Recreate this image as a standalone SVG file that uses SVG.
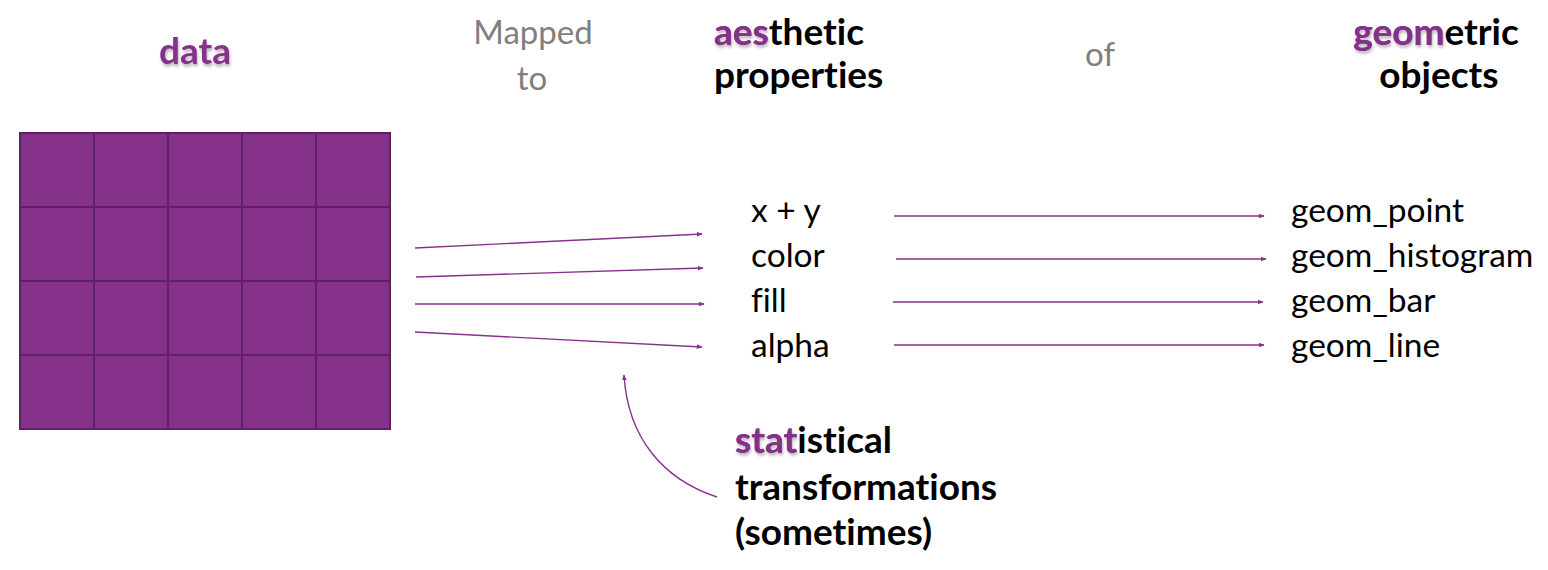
<svg xmlns="http://www.w3.org/2000/svg" width="1548" height="570" viewBox="0 0 1548 570">
<defs>
<style>
text{font-family:Lato,"Open Sans","Liberation Sans",sans-serif;font-variant-ligatures:none;}
.t{font-size:37px;font-weight:bold;fill:#000;}
.p{fill:#85308a;}
.n{fill:none;}
.g{font-size:33px;fill:#7f7f7f;}
.l{font-size:33.5px;fill:#000;}
.c{stroke:#86328a;stroke-width:1.4;fill:none;marker-end:url(#ah);}
.cell{fill:#86328a;stroke:#5e2163;stroke-width:2;}
</style>
<marker id="ah" viewBox="0 0 10 10" refX="9" refY="5" markerWidth="6" markerHeight="6" orient="auto" markerUnits="userSpaceOnUse"><path d="M0,1 L10,5 L0,9 z" fill="#86328a"/></marker>
<filter id="sh" x="-10%" y="-20%" width="130%" height="160%"><feDropShadow dx="1" dy="2.5" stdDeviation="1.5" flood-color="#000" flood-opacity="0.3"/></filter>
</defs>
<g id="title-data"><text class="t p" x="195" y="64" text-anchor="middle" filter="url(#sh)">data</text></g>
<g id="title-mapped"><text class="g" x="533" y="44" text-anchor="middle">Mapped</text><text class="g" x="532" y="90" text-anchor="middle">to</text></g>
<g id="title-aes">
<text class="t" x="714" y="45" filter="url(#sh)"><tspan class="p">aes</tspan><tspan class="n">thetic</tspan></text>
<text class="t" x="714" y="45"><tspan class="p">aes</tspan>thetic</text>
<text class="t" x="714" y="88">properties</text></g>
<g id="title-of"><text class="g" x="1100" y="66" text-anchor="middle">of</text></g>
<g id="title-geom">
<text class="t" x="1436" y="45" text-anchor="middle" filter="url(#sh)"><tspan class="p">geom</tspan><tspan class="n">etric</tspan></text>
<text class="t" x="1436" y="45" text-anchor="middle"><tspan class="p">geom</tspan>etric</text>
<text class="t" x="1439" y="88" text-anchor="middle">objects</text></g>
<g id="data-grid">
<rect class="cell" x="20" y="133" width="74" height="74"/><rect class="cell" x="94" y="133" width="74" height="74"/><rect class="cell" x="168" y="133" width="74" height="74"/><rect class="cell" x="242" y="133" width="74" height="74"/><rect class="cell" x="316" y="133" width="74" height="74"/>
<rect class="cell" x="20" y="207" width="74" height="74"/><rect class="cell" x="94" y="207" width="74" height="74"/><rect class="cell" x="168" y="207" width="74" height="74"/><rect class="cell" x="242" y="207" width="74" height="74"/><rect class="cell" x="316" y="207" width="74" height="74"/>
<rect class="cell" x="20" y="281" width="74" height="74"/><rect class="cell" x="94" y="281" width="74" height="74"/><rect class="cell" x="168" y="281" width="74" height="74"/><rect class="cell" x="242" y="281" width="74" height="74"/><rect class="cell" x="316" y="281" width="74" height="74"/>
<rect class="cell" x="20" y="355" width="74" height="74"/><rect class="cell" x="94" y="355" width="74" height="74"/><rect class="cell" x="168" y="355" width="74" height="74"/><rect class="cell" x="242" y="355" width="74" height="74"/><rect class="cell" x="316" y="355" width="74" height="74"/>
</g>
<g id="aesthetics"><text class="l" x="751" y="222">x + y</text><text class="l" x="751" y="267">color</text><text class="l" x="751" y="312">fill</text><text class="l" x="751" y="357">alpha</text></g>
<g id="geoms"><text class="l" x="1291" y="222">geom_point</text><text class="l" x="1291" y="267">geom_histogram</text><text class="l" x="1291" y="312">geom_bar</text><text class="l" x="1291" y="357">geom_line</text></g>
<g id="stat">
<text class="t" x="735" y="453" filter="url(#sh)"><tspan class="p">stat</tspan><tspan class="n">istical</tspan></text>
<text class="t" x="735" y="453"><tspan class="p">stat</tspan>istical</text>
<text class="t" x="735" y="500">transformations</text>
<text class="t" x="735" y="545">(sometimes)</text></g>
<g id="connectors">
<line class="c" x1="415" y1="248" x2="702" y2="234"/>
<line class="c" x1="416" y1="277" x2="703" y2="268"/>
<line class="c" x1="415" y1="304" x2="704" y2="304"/>
<line class="c" x1="415" y1="332" x2="702" y2="347"/>
<line class="c" x1="894" y1="216" x2="1264" y2="216"/>
<line class="c" x1="896" y1="259" x2="1266" y2="259"/>
<line class="c" x1="893" y1="302" x2="1263" y2="302"/>
<line class="c" x1="894" y1="345" x2="1264" y2="345"/>
<path class="c" d="M717,497 C665,480 628,440 624,375"/>
</g>
</svg>
